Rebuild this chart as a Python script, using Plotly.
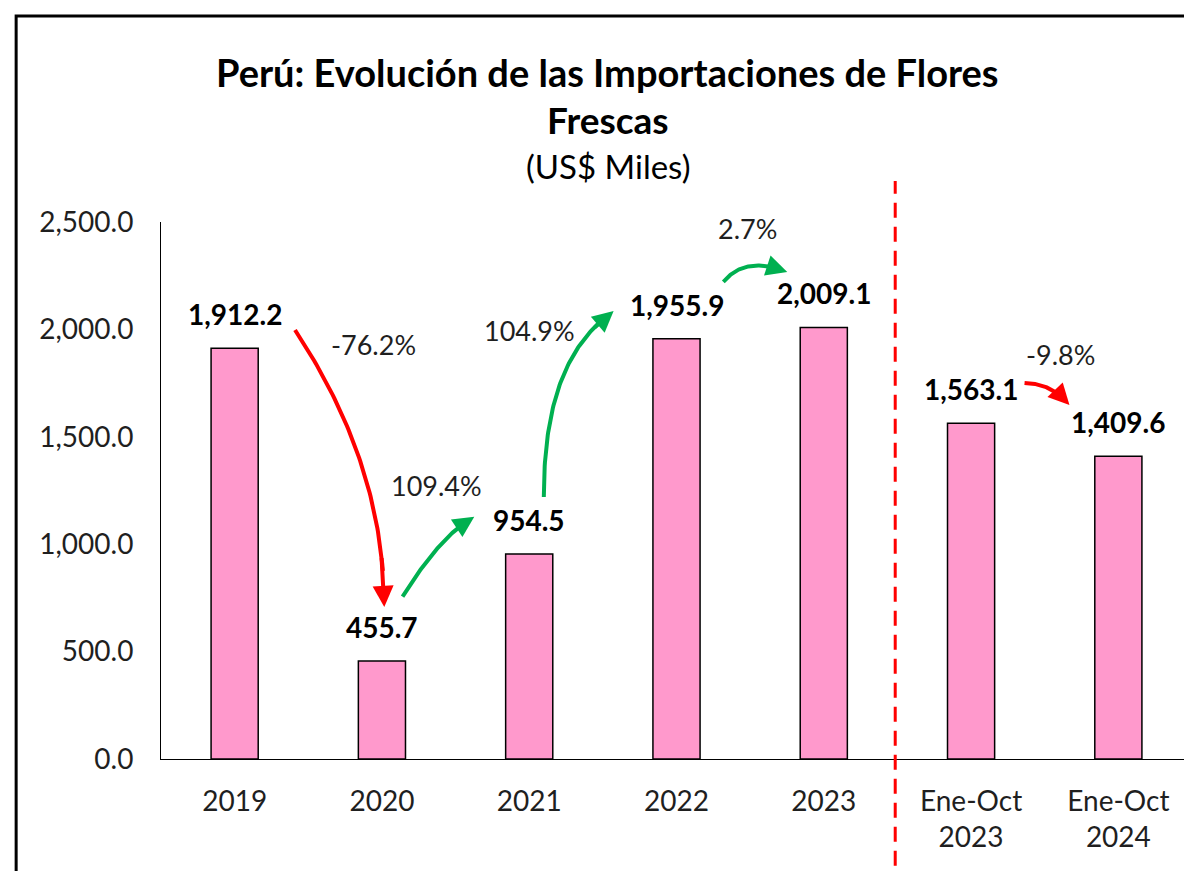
import numpy as np
from math import comb
import plotly.graph_objects as go

# ---------------- data ----------------
categories = ["2019", "2020", "2021", "2022", "2023", "Ene-Oct<br>2023", "Ene-Oct<br>2024"]
values = [1912.2, 455.7, 954.5, 1955.9, 2009.1, 1563.1, 1409.6]
y_ticks = [0, 500, 1000, 1500, 2000, 2500]

pct_labels = ["-76.2%", "109.4%", "104.9%", "2.7%", "-9.8%"]
# label anchor points (category index, value)
pct_x = [0.94, 1.37, 2.00, 3.48, 5.61]
pct_y = [1932, 1271, 1997, 2472, 1881]

# curved arrows: control points (category index, value), colour
arrows = [
    ([(0.41, 1997), (1.016, 1372), (1.016, 708)], "#FF0000"),
    ([(1.14, 756), (1.40, 1043), (1.627, 1128)], "#00B050"),
    ([(2.099, 1220), (2.099, 1718), (2.30, 1951), (2.573, 2086)], "#00B050"),
    ([(3.318, 2221), (3.467, 2346), (3.752, 2267)], "#00B050"),
    ([(5.363, 1750), (5.546, 1750), (5.668, 1648)], "#FF0000"),
]

FONT = "Lato"
TXT = "#1f1f1f"

x_idx = list(range(len(categories)))

fig = go.Figure()
fig.add_trace(go.Bar(
    x=x_idx, y=values, width=0.32,
    marker=dict(color="#FF99CC", line=dict(color="#000000", width=1.5)),
    hoverinfo="skip", showlegend=False,
))


def bezier(pts, n=60):
    pts = np.array(pts, dtype=float)
    k = len(pts) - 1
    t = np.linspace(0, 1, n)
    out = np.zeros((n, 2))
    for i, p in enumerate(pts):
        b = comb(k, i) * t ** i * (1 - t) ** (k - i)
        out += np.outer(b, p)
    return out


for pts, col in arrows:
    curve = bezier(pts, 80)
    cut = int(len(curve) * 0.88)
    fig.add_trace(go.Scatter(
        x=curve[:cut, 0], y=curve[:cut, 1], mode="lines",
        line=dict(color=col, width=4), hoverinfo="skip", showlegend=False,
    ))
    tail = curve[int(len(curve) * 0.82)]
    tip = curve[-1]
    fig.add_annotation(
        x=tip[0], y=tip[1], ax=tail[0], ay=tail[1], axref="x", ayref="y",
        xref="x", yref="y", text="", showarrow=True, arrowhead=2,
        arrowsize=1.05, arrowwidth=4, arrowcolor=col, standoff=0,
    )

# data labels
for i, v in enumerate(values):
    fig.add_annotation(
        x=i, y=v, text=f"<b>{v:,.1f}</b>", showarrow=False, yshift=34,
        font=dict(family=FONT, size=28, color="#000000"), yanchor="middle",
    )

# percent labels
for t, px_, py_ in zip(pct_labels, pct_x, pct_y):
    fig.add_annotation(
        x=px_, y=py_, text=t, showarrow=False,
        font=dict(family=FONT, size=27, color=TXT), yanchor="middle",
    )

# title lines
title_lines = [
    ("<b>Perú: Evolución de las Importaciones de Flores</b>", 1.2793, 38),
    ("<b>Frescas</b>", 1.190, 37),
    ("(US$ Miles)", 1.1043, 33),
]
for t, yy, sz in title_lines:
    fig.add_annotation(
        x=0.4331, y=yy, xref="paper", yref="paper", text=t, showarrow=False,
        font=dict(family=FONT, size=sz, color="#000000"), yanchor="middle",
    )

# separator dashed line
fig.add_shape(type="line", xref="x", yref="paper", x0=4.485, x1=4.485,
              y0=-0.199, y1=1.0764,
              line=dict(color="#FF0000", width=3, dash="15px,9px"))

# outer border
fig.add_shape(type="rect", xref="paper", yref="paper",
              x0=-0.1405, x1=1.2, y0=-0.6, y1=1.3836,
              line=dict(color="#000000", width=3))

fig.update_layout(
    width=1184, height=863,
    margin=dict(l=153, r=0, t=214, b=112),
    paper_bgcolor="white", plot_bgcolor="white",
    bargap=0.68,
    font=dict(family=FONT, color=TXT),
    xaxis=dict(
        range=[-0.5, 6.5], tickmode="array", tickvals=x_idx, ticktext=categories,
        showgrid=False, zeroline=False, showline=True, linecolor="#000000",
        linewidth=1.2, ticks="", tickfont=dict(family=FONT, size=28, color=TXT),
        ticklabelstandoff=17,
    ),
    yaxis=dict(
        range=[0, 2500], tickmode="array", tickvals=y_ticks,
        tickformat=",.1f", showgrid=False, zeroline=False, showline=True,
        linecolor="#000000", linewidth=1, ticks="",
        tickfont=dict(family=FONT, size=28, color=TXT), ticklabelstandoff=21,
    ),
)

fig.write_html("out.html")
